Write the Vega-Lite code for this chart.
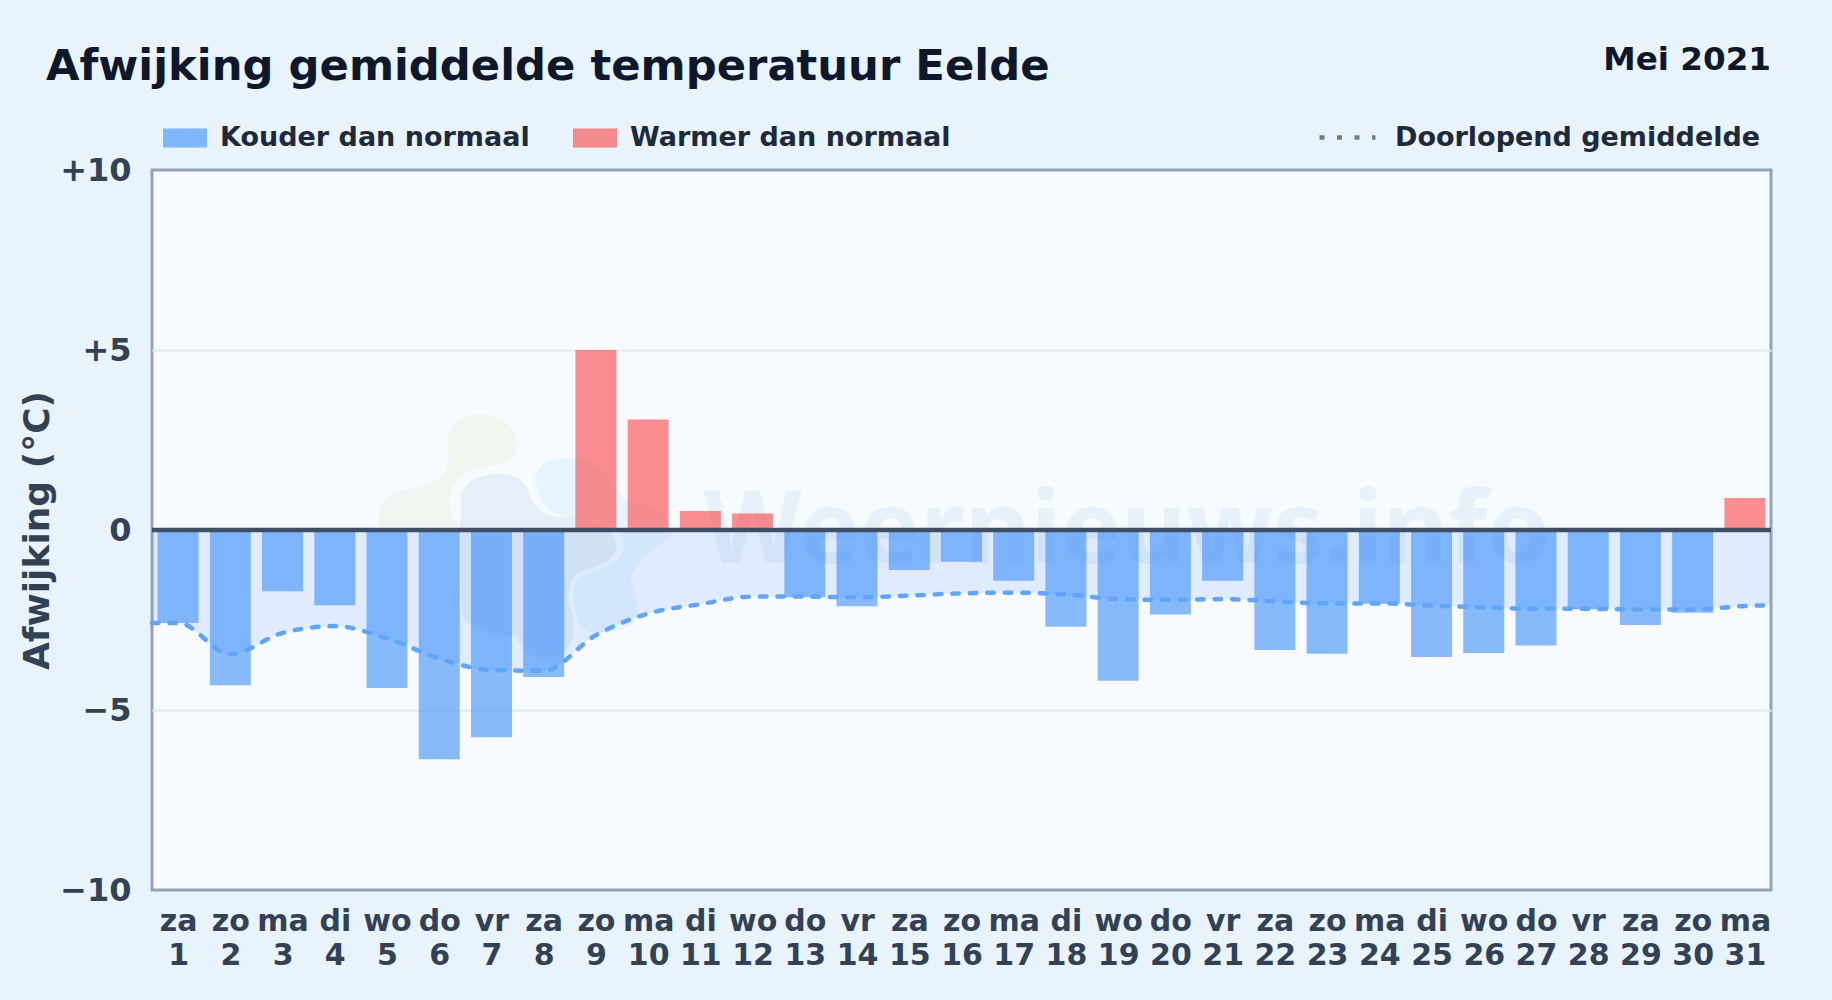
{
"$schema":"https://vega.github.io/schema/vega-lite/v6.json",
"autosize":"none",
"width":1619,"height":720,
"padding":{"left":152,"top":170,"right":61,"bottom":110},
"background":"#e8f3fc",
"title":{"text":"Afwijking gemiddelde temperatuur Eelde","anchor":"start","frame":"group","dx":-106,"offset":-79,"baseline":"alphabetic","font":"DejaVu Sans","fontSize":43.3,"fontWeight":"bold","color":"#0f172a"},
"view":{"fill":"#f7fbff","stroke":"#94a3b8","strokeWidth":3},
"datasets":{
"single":[{"day":1,"deviation":0}],
"days":[
{"day":1,"weekday":"za","deviation":-2.58,"kind":"Kouder dan normaal"},
{"day":2,"weekday":"zo","deviation":-4.31,"kind":"Kouder dan normaal"},
{"day":3,"weekday":"ma","deviation":-1.70,"kind":"Kouder dan normaal"},
{"day":4,"weekday":"di","deviation":-2.09,"kind":"Kouder dan normaal"},
{"day":5,"weekday":"wo","deviation":-4.39,"kind":"Kouder dan normaal"},
{"day":6,"weekday":"do","deviation":-6.37,"kind":"Kouder dan normaal"},
{"day":7,"weekday":"vr","deviation":-5.76,"kind":"Kouder dan normaal"},
{"day":8,"weekday":"za","deviation":-4.08,"kind":"Kouder dan normaal"},
{"day":9,"weekday":"zo","deviation":5.0,"kind":"Warmer dan normaal"},
{"day":10,"weekday":"ma","deviation":3.07,"kind":"Warmer dan normaal"},
{"day":11,"weekday":"di","deviation":0.53,"kind":"Warmer dan normaal"},
{"day":12,"weekday":"wo","deviation":0.46,"kind":"Warmer dan normaal"},
{"day":13,"weekday":"do","deviation":-1.87,"kind":"Kouder dan normaal"},
{"day":14,"weekday":"vr","deviation":-2.12,"kind":"Kouder dan normaal"},
{"day":15,"weekday":"za","deviation":-1.11,"kind":"Kouder dan normaal"},
{"day":16,"weekday":"zo","deviation":-0.88,"kind":"Kouder dan normaal"},
{"day":17,"weekday":"ma","deviation":-1.41,"kind":"Kouder dan normaal"},
{"day":18,"weekday":"di","deviation":-2.69,"kind":"Kouder dan normaal"},
{"day":19,"weekday":"wo","deviation":-4.19,"kind":"Kouder dan normaal"},
{"day":20,"weekday":"do","deviation":-2.35,"kind":"Kouder dan normaal"},
{"day":21,"weekday":"vr","deviation":-1.41,"kind":"Kouder dan normaal"},
{"day":22,"weekday":"za","deviation":-3.33,"kind":"Kouder dan normaal"},
{"day":23,"weekday":"zo","deviation":-3.44,"kind":"Kouder dan normaal"},
{"day":24,"weekday":"ma","deviation":-2.05,"kind":"Kouder dan normaal"},
{"day":25,"weekday":"di","deviation":-3.53,"kind":"Kouder dan normaal"},
{"day":26,"weekday":"wo","deviation":-3.42,"kind":"Kouder dan normaal"},
{"day":27,"weekday":"do","deviation":-3.21,"kind":"Kouder dan normaal"},
{"day":28,"weekday":"vr","deviation":-2.2,"kind":"Kouder dan normaal"},
{"day":29,"weekday":"za","deviation":-2.64,"kind":"Kouder dan normaal"},
{"day":30,"weekday":"zo","deviation":-2.3,"kind":"Kouder dan normaal"},
{"day":31,"weekday":"ma","deviation":0.89,"kind":"Warmer dan normaal"}
],
"running":[
{"day":0.5,"mean":-2.58,"series":"Doorlopend gemiddelde"},
{"day":1,"mean":-2.58,"series":"Doorlopend gemiddelde"},
{"day":2,"mean":-3.45,"series":"Doorlopend gemiddelde"},
{"day":3,"mean":-2.86,"series":"Doorlopend gemiddelde"},
{"day":4,"mean":-2.67,"series":"Doorlopend gemiddelde"},
{"day":5,"mean":-3.01,"series":"Doorlopend gemiddelde"},
{"day":6,"mean":-3.57,"series":"Doorlopend gemiddelde"},
{"day":7,"mean":-3.89,"series":"Doorlopend gemiddelde"},
{"day":8,"mean":-3.91,"series":"Doorlopend gemiddelde"},
{"day":9,"mean":-2.92,"series":"Doorlopend gemiddelde"},
{"day":10,"mean":-2.32,"series":"Doorlopend gemiddelde"},
{"day":11,"mean":-2.06,"series":"Doorlopend gemiddelde"},
{"day":12,"mean":-1.85,"series":"Doorlopend gemiddelde"},
{"day":13,"mean":-1.85,"series":"Doorlopend gemiddelde"},
{"day":14,"mean":-1.87,"series":"Doorlopend gemiddelde"},
{"day":15,"mean":-1.82,"series":"Doorlopend gemiddelde"},
{"day":16,"mean":-1.76,"series":"Doorlopend gemiddelde"},
{"day":17,"mean":-1.74,"series":"Doorlopend gemiddelde"},
{"day":18,"mean":-1.79,"series":"Doorlopend gemiddelde"},
{"day":19,"mean":-1.92,"series":"Doorlopend gemiddelde"},
{"day":20,"mean":-1.94,"series":"Doorlopend gemiddelde"},
{"day":21,"mean":-1.92,"series":"Doorlopend gemiddelde"},
{"day":22,"mean":-1.98,"series":"Doorlopend gemiddelde"},
{"day":23,"mean":-2.04,"series":"Doorlopend gemiddelde"},
{"day":24,"mean":-2.04,"series":"Doorlopend gemiddelde"},
{"day":25,"mean":-2.10,"series":"Doorlopend gemiddelde"},
{"day":26,"mean":-2.15,"series":"Doorlopend gemiddelde"},
{"day":27,"mean":-2.19,"series":"Doorlopend gemiddelde"},
{"day":28,"mean":-2.19,"series":"Doorlopend gemiddelde"},
{"day":29,"mean":-2.21,"series":"Doorlopend gemiddelde"},
{"day":30,"mean":-2.21,"series":"Doorlopend gemiddelde"},
{"day":31,"mean":-2.11,"series":"Doorlopend gemiddelde"},
{"day":31.5,"mean":-2.09,"series":"Doorlopend gemiddelde"}
]
},
"data":{"name":"days"},
"encoding":{
"x":{"field":"day","type":"quantitative","scale":{"domain":[0.5,31.5],"nice":false,"zero":false,"padding":0},
"axis":{"values":[1,2,3,4,5,6,7,8,9,10,11,12,13,14,15,16,17,18,19,20,21,22,23,24,25,26,27,28,29,30,31],"title":null,"grid":false,"ticks":false,"domain":false,"labelFlush":false,"labelOverlap":false,"labelPadding":16,"labelFont":"DejaVu Sans","labelFontWeight":"bold","labelFontSize":30,"labelColor":"#334155","labelLineHeight":34,"labelBaseline":"top","labelExpr":"[['za','zo','ma','di','wo','do','vr','za','zo','ma','di','wo','do','vr','za','zo','ma','di','wo','do','vr','za','zo','ma','di','wo','do','vr','za','zo','ma'][datum.value-1], '' + datum.value]"}},
"y":{"type":"quantitative","scale":{"domain":[-10,10],"nice":false},
"axis":{"values":[-10,-5,0,5,10],"title":"Afwijking (°C)","titleFont":"DejaVu Sans","titleFontWeight":"bold","titleFontSize":36,"titleColor":"#334155","titlePadding":3,"grid":true,"gridColor":{"condition":{"test":"abs(datum.value) === 10","value":"transparent"},"value":"#e3e9ed"},"gridWidth":2,"ticks":false,"domain":false,"labelPadding":21,"labelFont":"DejaVu Sans","labelFontWeight":"bold","labelFontSize":32,"labelColor":"#334155","labelExpr":"datum.value > 0 ? '+' + datum.value : (datum.value < 0 ? '\u2212' + abs(datum.value) : '0')"}}
},
"layer":[
{"data":{"name":"single"},"mark":{"type":"text","font":"Noto Sans","fontWeight":"bold","fontSize":101,"align":"center","baseline":"alphabetic","color":"#5b8fc4","opacity":0.09,"clip":false},
 "encoding":{"x":{"datum":19.17},"y":{"datum":-0.92},"text":{"value":"Weernieuws.info"}}},
{"data":{"name":"single"},"mark":{"type":"point","filled":true,"size":0.4444,"color":"#c5dc8c","opacity":0.13,"shape":"M60,412 C50,340 90,305 160,295 C230,280 268,255 270,195 C250,110 300,75 370,72 C440,75 478,120 470,180 C462,215 440,225 400,228 C330,232 280,260 272,320 C268,370 285,400 320,412 Z"},
 "encoding":{"x":{"datum":4.466},"y":{"datum":3.889}}},
{"data":{"name":"single"},"mark":{"type":"point","filled":true,"size":0.4444,"color":"#7fa8c4","opacity":0.14,"shape":"M305,330 C305,270 370,250 430,252 C490,258 505,290 515,320 C530,370 580,385 640,382 C700,390 770,410 772,470 C770,510 720,530 680,540 C640,550 625,590 630,640 C650,700 655,750 610,790 C560,830 500,800 470,740 C420,740 340,720 310,680 C300,560 305,420 305,330 Z"},
 "encoding":{"x":{"datum":4.466},"y":{"datum":3.889}}},
{"data":{"name":"single"},"mark":{"type":"point","filled":true,"size":0.4444,"color":"#38a8f5","opacity":0.08,"shape":"M530,260 C535,215 590,200 650,205 C720,210 770,300 800,330 C860,340 900,370 930,395 C960,415 935,440 920,450 C880,480 830,510 815,570 C820,600 840,640 838,670 C835,700 800,720 760,725 C720,735 680,730 660,700 C640,650 630,600 660,565 C700,540 780,530 792,480 C800,440 780,410 740,395 C700,385 640,385 600,375 C550,360 530,310 530,260 Z"},
 "encoding":{"x":{"datum":4.466},"y":{"datum":3.889}}},
{"data":{"name":"running"},
 "mark":{"type":"area","interpolate":"monotone","color":"#3b82f6","opacity":0.12},
 "encoding":{"y":{"field":"mean","type":"quantitative"},"y2":{"datum":0}}},
{"mark":{"type":"bar","size":41,"opacity":0.6},
 "encoding":{"y":{"field":"deviation","type":"quantitative"},"y2":{"datum":0},
 "color":{"field":"kind","type":"nominal","scale":{"domain":["Kouder dan normaal","Warmer dan normaal"],"range":["#3b8ff8","#fb4444"]},
 "legend":{"title":null,"orient":"none","legendX":10,"legendY":-55,"direction":"horizontal","columns":2,"columnPadding":42,"symbolType":"M-1,-0.43H1V0.43H-1Z","symbolSize":1936,"labelOffset":12,"labelFont":"DejaVu Sans","labelFontWeight":"bold","labelFontSize":27,"labelColor":"#1e293b","labelLimit":500}}}},
{"data":{"name":"running"},
 "mark":{"type":"line","interpolate":"monotone","strokeWidth":4.5,"strokeCap":"round","strokeDash":[6.5,11],"color":"#60a5fa"},
 "encoding":{"y":{"field":"mean","type":"quantitative"}}},
{"data":{"name":"running"},
 "mark":{"type":"line","interpolate":"monotone","strokeWidth":4,"strokeCap":"butt","strokeDash":[5,12.5],"opacity":0},
 "encoding":{"y":{"field":"mean","type":"quantitative"},
 "stroke":{"field":"series","type":"nominal","scale":{"domain":["Doorlopend gemiddelde"],"range":["#6f7d90"]},
 "legend":{"title":null,"orient":"none","legendX":1165,"legendY":-63,"symbolType":"stroke","symbolSize":3136,"symbolStrokeWidth":4.5,"symbolOpacity":1,"symbolDash":[5,12.5],"labelOffset":17,"labelFont":"DejaVu Sans","labelFontWeight":"bold","labelFontSize":27,"labelColor":"#1e293b","labelLimit":500}}}},
{"data":{"name":"single"},"mark":{"type":"rule","color":"#3f4e64","strokeWidth":4.5},
 "encoding":{"y":{"datum":0},"x":{"datum":0.5},"x2":{"datum":31.5}}},
{"data":{"name":"single"},"mark":{"type":"text","font":"DejaVu Sans","fontWeight":"bold","fontSize":32.6,"align":"right","baseline":"alphabetic","color":"#0f172a","dy":-100,"clip":false},
 "encoding":{"x":{"datum":31.5},"y":{"datum":10},"text":{"value":"Mei 2021"}}}
]
}
